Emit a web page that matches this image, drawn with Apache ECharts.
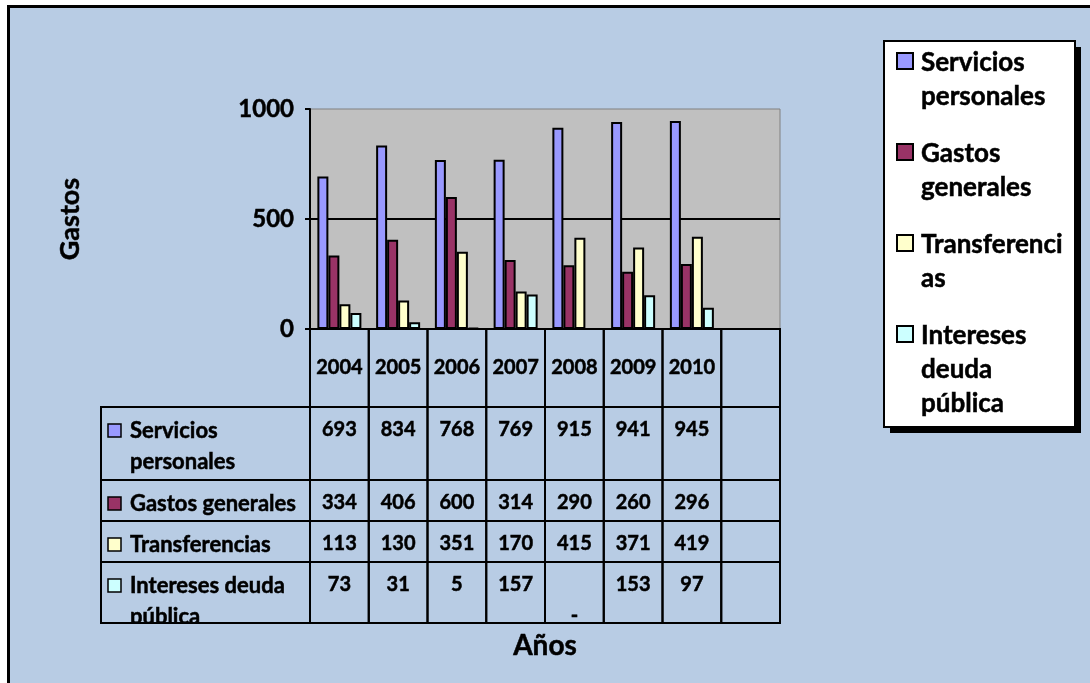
<!DOCTYPE html>
<html>
<head>
<meta charset="UTF-8">
<title>Gastos</title>
<script src="https://cdn.jsdelivr.net/npm/echarts@6/dist/echarts.min.js"></script>
<style>
  html, body { margin: 0; padding: 0; background: #fff; overflow: hidden; }
  #frame {
    position: absolute; left: 7px; top: 5px; width: 1100px; height: 700px;
    border-left: 3px solid #000; border-top: 3px solid #000;
    background: #b8cce4;
  }
  #main { position: absolute; left: 0; top: 0; width: 1090px; height: 683px; }
</style>
</head>
<body>
<div id="frame"></div>
<div id="main"></div>
<script>
// datos
var years = ['2004', '2005', '2006', '2007', '2008', '2009', '2010', ''];
var seriesNames = ['Servicios personales', 'Gastos generales', 'Transferencias', 'Intereses deuda pública'];
var serviciosPersonales = [693, 834, 768, 769, 915, 941, 945, null];
var gastosGenerales = [334, 406, 600, 314, 290, 260, 296, null];
var transferencias = [113, 130, 351, 170, 415, 371, 419, null];
var interesesDeuda = [73, 31, 5, 157, null, 153, 97, null];
var yTicks = [0, 500, 1000];
var legendLabels = ['Servicios\npersonales', 'Gastos\ngenerales', 'Transferenci\nas', 'Intereses\ndeuda\npública'];
var tableLabels = ['Servicios\npersonales', 'Gastos generales', 'Transferencias', 'Intereses deuda\npública'];

var colors = ['#9999ff', '#993366', '#ffffcc', '#ccffff'];
var allValues = [serviciosPersonales, gastosGenerales, transferencias, interesesDeuda];
var FONT = 'Lato, "Open Sans", sans-serif';
var BG = '#b8cce4';

// alturas de la tabla (desde el eje x)
var headerH = 78;
var rowH = [73, 41, 41, 61];
var labelColW = 209;

var myChart = echarts.init(document.getElementById('main'));

function txtStyle(text, x, y, size, align, valign, lh) {
    return {
        text: text, x: x, y: y, fill: '#000', font: 'bold ' + size + 'px ' + FONT,
        stroke: '#000', lineWidth: 0.5, lineHeight: lh,
        align: align, verticalAlign: valign, textAlign: align, textVerticalAlign: valign
    };
}

function renderTable(params, api) {
    var i = api.value(0);
    var base = api.coord([i, 0]);
    var w = api.size([1, 0])[0];
    var x0 = base[0] - w / 2;
    var top = base[1];
    var children = [];
    var lineStyle = { fill: 'none', stroke: '#000', lineWidth: 2 };

    // cabecera (años)
    children.push({ type: 'rect', shape: { x: x0, y: top, width: w, height: headerH }, style: lineStyle });
    children.push({ type: 'text', style: txtStyle(years[i], base[0], top + 39, 20, 'center', 'middle') });

    var y = top + headerH;
    var labelLeft = x0 - labelColW;
    for (var r = 0; r < rowH.length; r++) {
        var v = allValues[r][i];
        var txt = v == null ? (years[i] ? '-' : '') : String(v);
        var ty = v == null ? y + rowH[r] - 7 : y + 23;
        if (i === 0) {
            children.push({ type: 'rect', shape: { x: labelLeft + 7, y: y + 17, width: 13, height: 13 },
                style: { fill: colors[r], stroke: '#000', lineWidth: 1.5 } });
            children.push({ type: 'text', style: txtStyle(tableLabels[r], labelLeft + 29, y + 8.5, 22, 'left', 'top', 31) });
        }
        children.push({ type: 'text', style: txtStyle(txt, base[0], ty, 20, 'center', 'middle') });
        y += rowH[r];
    }
    if (i === 0) {
        // recorta el texto que sobresale de la tabla
        children.push({ type: 'rect', shape: { x: labelLeft - 2, y: y + 1, width: labelColW + 4, height: 10 },
            style: { fill: BG } });
    }
    // bordes
    y = top + headerH;
    for (r = 0; r < rowH.length; r++) {
        children.push({ type: 'rect', shape: { x: x0, y: y, width: w, height: rowH[r] }, style: lineStyle });
        if (i === 0) {
            children.push({ type: 'rect', shape: { x: labelLeft, y: y, width: labelColW, height: rowH[r] }, style: lineStyle });
        }
        y += rowH[r];
    }
    return { type: 'group', children: children };
}

// leyenda
var legendChildren = [
    { type: 'rect', shape: { x: 6, y: 6, width: 191, height: 386 }, style: { fill: '#000' } },
    { type: 'rect', shape: { x: 0, y: 0, width: 191, height: 386 }, style: { fill: '#fff', stroke: '#000', lineWidth: 2 } }
];
var ly = 22;
for (var k = 0; k < seriesNames.length; k++) {
    legendChildren.push({ type: 'rect', shape: { x: 13, y: ly - 10, width: 16, height: 16 },
        style: { fill: colors[k], stroke: '#000', lineWidth: 2 } });
    legendChildren.push({ type: 'text', style: txtStyle(legendLabels[k], 37, ly - 17, 26, 'left', 'top', 34) });
    ly += legendLabels[k].split('\n').length * 34 + 23;
}

var series = seriesNames.map(function (name, k) {
    return {
        name: name,
        type: 'bar',
        data: allValues[k],
        barWidth: 11,
        barGap: '0%',
        itemStyle: { color: colors[k], borderColor: '#000', borderWidth: 2 }
    };
});
series.push({
    type: 'custom',
    silent: true,
    clip: false,
    renderItem: renderTable,
    data: years.map(function (y, i) { return [i, 0]; }),
    encode: { x: 0, y: 1 },
    z: 5
});

option = {
    animation: false,
    textStyle: { fontFamily: FONT },
    grid: {
        left: 310, top: 109, width: 470, height: 220,
        show: true, backgroundColor: '#c0c0c0', borderColor: '#808080', borderWidth: 1
    },
    xAxis: {
        type: 'category',
        data: years,
        axisLine: { lineStyle: { color: '#000', width: 2 } },
        axisTick: { show: false },
        axisLabel: { show: false },
        name: 'Años',
        nameLocation: 'middle',
        nameGap: 303,
        nameTextStyle: { fontSize: 28, fontWeight: 'bold', color: '#000', fontFamily: FONT,
            textBorderColor: '#000', textBorderWidth: 0.5 }
    },
    yAxis: {
        type: 'value',
        min: yTicks[0],
        max: yTicks[yTicks.length - 1],
        interval: yTicks[1] - yTicks[0],
        axisLine: { show: true, lineStyle: { color: '#000', width: 2 } },
        axisTick: { show: true, length: 5, lineStyle: { color: '#000', width: 2 } },
        splitLine: { show: true, showMaxLine: false, showMinLine: false, lineStyle: { color: '#000', width: 2 } },
        axisLabel: { fontSize: 24, fontWeight: 'bold', color: '#000', margin: 16, fontFamily: FONT,
            textBorderColor: '#000', textBorderWidth: 0.5,
            formatter: function (v) { return String(v); } },
        name: 'Gastos',
        nameLocation: 'middle',
        nameGap: 226,
        nameRotate: 90,
        nameTextStyle: { fontSize: 27, fontWeight: 'bold', color: '#000', fontFamily: FONT,
            textBorderColor: '#000', textBorderWidth: 0.5 }
    },
    graphic: [{ type: 'group', left: 883, top: 40, children: legendChildren }],
    series: series
};

myChart.setOption(option);
</script>
</body>
</html>
